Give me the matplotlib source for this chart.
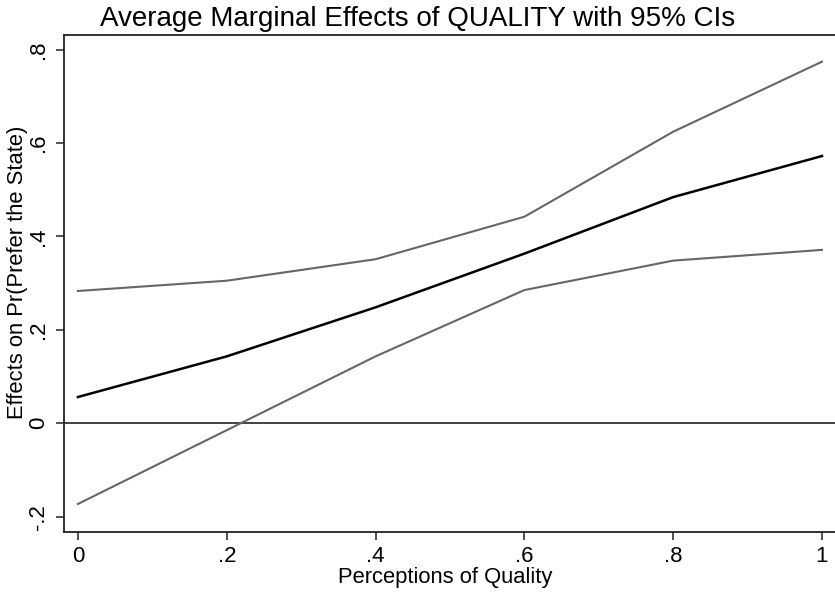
#!/usr/bin/env python3
"""Average marginal effects of QUALITY with 95% confidence bands (Stata-like look)."""
import matplotlib
matplotlib.use("Agg")
import matplotlib.pyplot as plt

plt.rcParams["font.family"] = ["Liberation Sans", "DejaVu Sans"]

# ── data ─────────────────────────────────────────────────────────────────────
quality = [0.0, 0.2, 0.4, 0.6, 0.8, 1.0]
effect = [0.056, 0.143, 0.248, 0.363, 0.484, 0.572]
ci_upper = [0.283, 0.305, 0.351, 0.442, 0.624, 0.774]
ci_lower = [-0.173, -0.015, 0.143, 0.285, 0.348, 0.371]

x_ticks = [0.0, 0.2, 0.4, 0.6, 0.8, 1.0]
x_ticklabels = ["0", ".2", ".4", ".6", ".8", "1"]
y_ticks = [-0.2, 0.0, 0.2, 0.4, 0.6, 0.8]
y_ticklabels = ["-.2", "0", ".2", ".4", ".6", ".8"]

# ── figure ───────────────────────────────────────────────────────────────────
fig = plt.figure(figsize=(8.35, 5.93), dpi=100)
ax = fig.add_axes([0.0766, 0.1029, 0.9234, 0.838])

ax.axhline(0, color="#333333", lw=1.3, zorder=1)
ax.plot(quality, ci_upper, color="#666666", lw=1.5, zorder=2)
ax.plot(quality, ci_lower, color="#666666", lw=1.5, zorder=2)
ax.plot(quality, effect, color="black", lw=1.8, zorder=3)

ax.set_xlim(-0.0188, 1.0175)
ax.set_ylim(-0.233, 0.831)

ax.set_xticks(x_ticks)
ax.set_xticklabels(x_ticklabels)
ax.set_yticks(y_ticks)
ax.set_yticklabels(y_ticklabels, rotation=90, va="center")

# plot region box: left, bottom and top edges (right edge falls off the canvas)
ax.spines["right"].set_visible(False)
for side in ("left", "bottom", "top"):
    ax.spines[side].set_linewidth(1.3)
    ax.spines[side].set_color("#222222")

ax.tick_params(axis="both", direction="out", length=6, width=1.1,
               color="#222222", labelsize=16, pad=5)
ax.tick_params(axis="x", pad=4)

ax.set_xlabel("Perceptions of Quality", fontsize=15.8, labelpad=0, x=0.495)
ax.set_ylabel("Effects on Pr(Prefer the State)", fontsize=15.8)
ax.yaxis.set_label_coords(-0.046, 0.523)
fig.suptitle("Average Marginal Effects of QUALITY with 95% CIs",
             fontsize=20, x=0.5, y=0.99, va="top")

fig.savefig("out.png", dpi=100)
